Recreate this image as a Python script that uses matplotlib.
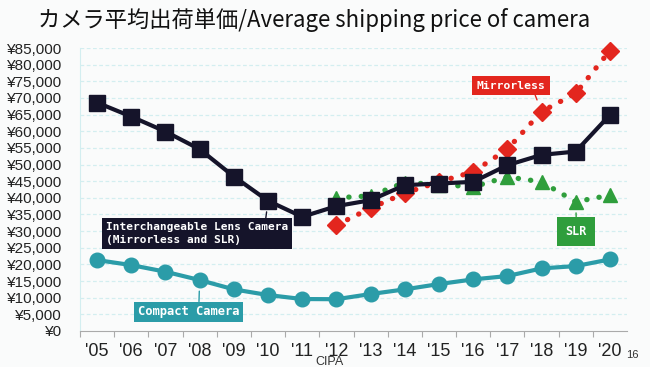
import matplotlib.pyplot as plt

years = ["'05", "'06", "'07", "'08", "'09", "'10", "'11", "'12",
         "'13", "'14", "'15", "'16", "'17", "'18", "'19", "'20"]
ilc = [68600, 64400, 59900, 54600, 46400, 39100, 34300, 37500,
       39300, 43800, 44300, 44800, 49800, 52900, 53900, 64900]
compact = [21300, 19800, 17800, 15300, 12500, 10800, 9600, 9550,
           11100, 12500, 14100, 15500, 16500, 18800, 19500, 21500]
mirrorless_x = [7, 8, 9, 10, 11, 12, 13, 14, 15]
mirrorless = [31800, 36900, 41400, 44800, 47800, 54600, 65900, 71400, 84200]
slr_x = [7, 8, 9, 10, 11, 12, 13, 14, 15]
slr = [40000, 40600, 44600, 44000, 43300, 46300, 44800, 38800, 40800]
yticks = list(range(0, 85001, 5000))

c_ilc = '#15142a'
c_comp = '#2b9ca8'
c_mirr = '#e3261e'
c_slr = '#2f9e3c'

fig = plt.figure(figsize=(6.5, 3.67), dpi=100)
fig.patch.set_facecolor('#fafbfb')
ax = fig.add_axes([80/650, 36/367, 547/650, 283/367])
ax.set_facecolor('#fafbfb')

x = list(range(len(years)))

# grid
for v in yticks[1:]:
    ax.axhline(v, color='#d3eef0', lw=0.9, ls=(0, (3, 2)), zorder=0)

ax.plot(slr_x, slr, color=c_slr, lw=3.8, ls=(0, (0.05, 2.3)), dash_capstyle='round',
        marker='^', ms=10, zorder=2, clip_on=False)
ax.plot(mirrorless_x, mirrorless, color=c_mirr, lw=3.8, ls=(0, (0.05, 2.3)),
        dash_capstyle='round', marker='D', ms=9, zorder=3, clip_on=False)
ax.plot(x, compact, color=c_comp, lw=3, marker='o', ms=10.5, zorder=4, clip_on=False)
ax.plot(x, ilc, color=c_ilc, lw=3, marker='s', ms=11, zorder=5, clip_on=False)

ax.set_xlim(-0.5, 15.5)
ax.set_ylim(0, 85000)
ax.set_yticks(yticks)
ax.set_yticklabels(['¥{:,}'.format(v) for v in yticks], fontsize=11,
                   family='Liberation Sans', color='#222222')
ax.set_xticks(x)
ax.set_xticklabels(years, fontsize=13, family='Liberation Sans', color='#222222')
ax.set_xticks([i + 0.5 for i in range(-1, 15)], minor=True)
ax.tick_params(axis='y', length=0, pad=13)
ax.tick_params(axis='x', which='major', length=0, pad=9)
ax.tick_params(axis='x', which='minor', length=4, color='#aaaaaa', width=0.8)

for s in ['top', 'right']:
    ax.spines[s].set_visible(False)
ax.spines['left'].set_color('#d3eef0')
ax.spines['bottom'].set_color('#aaaaaa')
ax.spines['bottom'].set_linewidth(0.8)

box_font = dict(family='DejaVu Sans Mono', fontweight='bold', color='white')

ax.annotate('Interchangeable Lens Camera\n(Mirrorless and SLR)',
            xy=(5, ilc[5]), xytext=(2.92, 29300), textcoords='data',
            ha='center', va='center', multialignment='left', fontsize=8,
            linespacing=1.3, zorder=6,
            bbox=dict(boxstyle='square,pad=0.35', fc=c_ilc, ec='none'),
            arrowprops=dict(arrowstyle='-', color=c_ilc, lw=1, relpos=(0.875, 1),
                            shrinkA=0, shrinkB=8), **box_font)
ax.annotate('Compact Camera', xy=(3, compact[3]), xytext=(2.68, 5800),
            textcoords='data', ha='center', va='center', fontsize=8.7, zorder=6,
            bbox=dict(boxstyle='square,pad=0.3', fc=c_comp, ec='none'),
            arrowprops=dict(arrowstyle='-', color=c_comp, lw=1, relpos=(0.6, 1),
                            shrinkA=0, shrinkB=8), **box_font)
ax.annotate('Mirrorless', xy=(13, mirrorless[6]), xytext=(12.1, 73700),
            textcoords='data', ha='center', va='center', fontsize=8.2, zorder=6,
            bbox=dict(boxstyle='square,pad=0.4', fc=c_mirr, ec='none'),
            arrowprops=dict(arrowstyle='-', color=c_mirr, lw=1, relpos=(0.83, 0),
                            shrinkA=0, shrinkB=9), **box_font)
ax.annotate('SLR', xy=(14, slr[7]), xytext=(14.02, 29900),
            textcoords='data', ha='center', va='center', fontsize=8.5, zorder=6,
            bbox=dict(boxstyle='square,pad=0.7', fc=c_slr, ec='none'),
            arrowprops=dict(arrowstyle='-', color=c_slr, lw=1, relpos=(0.5, 1),
                            shrinkA=0, shrinkB=8), **box_font)

fig.text(38/650, 1 - 20/367, 'カメラ平均出荷単価/Average shipping price of camera',
         ha='left', va='center', fontsize=16,
         family=['Noto Sans CJK JP', 'DejaVu Sans'], color='#111111')
fig.text(330/650, 1 - 362/367, 'CIPA', ha='center', va='center', fontsize=9,
         family='Liberation Sans', color='#333333')
fig.text(632/650, 1 - 355/367, '16', ha='center', va='center', fontsize=8,
         family='Liberation Sans', color='#333333')

fig.savefig('out.png', dpi=100, facecolor=fig.get_facecolor())
